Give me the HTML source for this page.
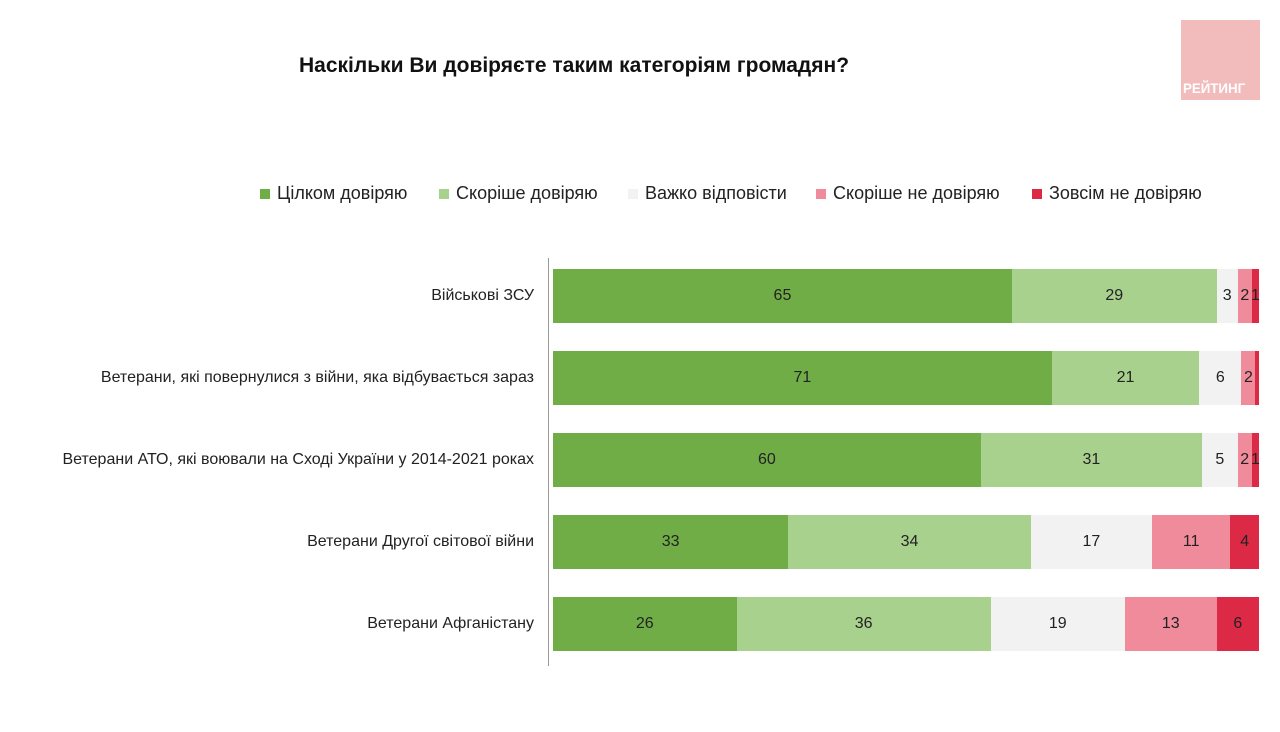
<html><head><style>
body{margin:0;width:1280px;height:732px;background:#fff;font-family:"Liberation Sans",Arial,sans-serif;position:relative;overflow:hidden}
.a{position:absolute}
.t{font-weight:bold;font-size:21px;left:299px;top:54px;color:#111}
.lg{top:183px;font-size:18px;color:#222}
.sw{position:absolute;width:10px;height:10px;top:189px}
.lab{position:absolute;right:746px;font-size:16px;color:#222;text-align:right;white-space:nowrap}
.seg{position:absolute;height:54px;display:flex;align-items:center;justify-content:center;font-size:16px;color:#222;overflow:visible}
</style></head><body>
<div class="a t">Наскільки Ви довіряєте таким категоріям громадян?</div>
<div class="a" style="left:1181px;top:20px;width:79px;height:80px;background:#f2bcbc"></div>
<div class="a" style="left:1183px;top:80px;color:#fff;font-weight:bold;font-size:14px;transform:scaleX(0.95);transform-origin:left">РЕЙТИНГ</div>
<div class="sw" style="left:260px;background:#70ad47"></div><div class="a lg" style="left:277px">Цілком довіряю</div>
<div class="sw" style="left:439px;background:#a9d18e"></div><div class="a lg" style="left:456px">Скоріше довіряю</div>
<div class="sw" style="left:628px;background:#f2f2f2"></div><div class="a lg" style="left:645px">Важко відповісти</div>
<div class="sw" style="left:816px;background:#f08b9b"></div><div class="a lg" style="left:833px">Скоріше не довіряю</div>
<div class="sw" style="left:1032px;background:#dc2a46"></div><div class="a lg" style="left:1049px">Зовсім не довіряю</div>
<div class="a" style="left:548px;top:258px;width:1px;height:408px;background:#999"></div>
<div id="c"></div>
<script>
var rows=[["Військові ЗСУ",[65,29,3,2,1]],["Ветерани, які повернулися з війни, яка відбувається зараз",[71,21,6,2,0.5]],["Ветерани АТО, які воювали на Сході України у 2014-2021 роках",[60,31,5,2,1]],["Ветерани Другої світової війни",[33,34,17,11,4]],["Ветерани Афганістану",[26,36,19,13,6]]];
var cols=["#70ad47","#a9d18e","#f2f2f2","#f08b9b","#dc2a46"];
var h="";
rows.forEach(function(r,i){var y=269+i*82;var tot=r[1].reduce(function(a,b){return a+b});var x=553;
h+='<div class="lab" style="top:'+(y+18)+'px">'+r[0]+'</div>';
r[1].forEach(function(v,j){var w=v*706/tot;h+='<div class="seg" style="left:'+x+'px;top:'+y+'px;width:'+w+'px;background:'+cols[j]+'">'+(v>=1?v:'')+'</div>';x+=w;});});
document.getElementById("c").innerHTML=h;
</script>
</body></html>
